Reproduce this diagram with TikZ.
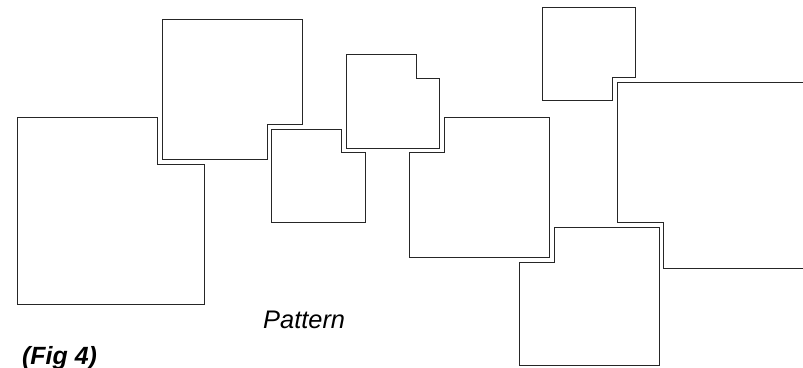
\documentclass[tikz,border=0pt]{standalone}
\usepackage{fontspec}
\setmainfont{Liberation Sans}
\begin{document}
\begin{tikzpicture}[x=1bp,y=-1bp,
  tile/.style={draw=black!85,line width=0.9bp,line join=miter},
  lbl/.style={inner sep=0pt,anchor=base west}]
\useasboundingbox (0,0) rectangle (803,367);
% A
\draw[tile] (17.5,117.5) -- (157.5,117.5) -- (157.5,164.5) -- (204.5,164.5) -- (204.5,304) -- (17.5,304) -- cycle;
% B
\draw[tile] (162.5,19.5) -- (302.5,19.5) -- (302.5,124.5) -- (267.5,124.5) -- (267.5,159.5) -- (162.5,159.5) -- cycle;
% C
\draw[tile] (271.5,129.5) -- (341.5,129.5) -- (341.5,152.5) -- (365,152.5) -- (365,222.5) -- (271.5,222.5) -- cycle;
% D
\draw[tile] (346.5,54.5) -- (416.5,54.5) -- (416.5,78) -- (439.5,78) -- (439.5,148) -- (346.5,148) -- cycle;
% E
\draw[tile] (409.5,152.5) -- (444.5,152.5) -- (444.5,117.5) -- (549.5,117.5) -- (549.5,257.5) -- (409.5,257.5) -- cycle;
% F
\draw[tile] (542.5,7.5) -- (635.5,7.5) -- (635.5,77.5) -- (612.5,77.5) -- (612.5,100.5) -- (542.5,100.5) -- cycle;
% G
\draw[tile] (803,82.5) -- (617,82.5) -- (617,222.5) -- (663.5,222.5) -- (663.5,268.5) -- (803,268.5);
% H
\draw[tile] (519,365.5) -- (519,262) -- (554,262) -- (554,227) -- (659,227) -- (659,365.5) -- cycle;
\node[lbl,font=\itshape\fontsize{25.5}{30}\selectfont] (pattern) at (263,328) {Pattern};
\node[lbl,font=\bfseries\itshape\fontsize{25}{30}\selectfont] (fig) at (22,364) {(Fig 4)};
\end{tikzpicture}
\end{document}
